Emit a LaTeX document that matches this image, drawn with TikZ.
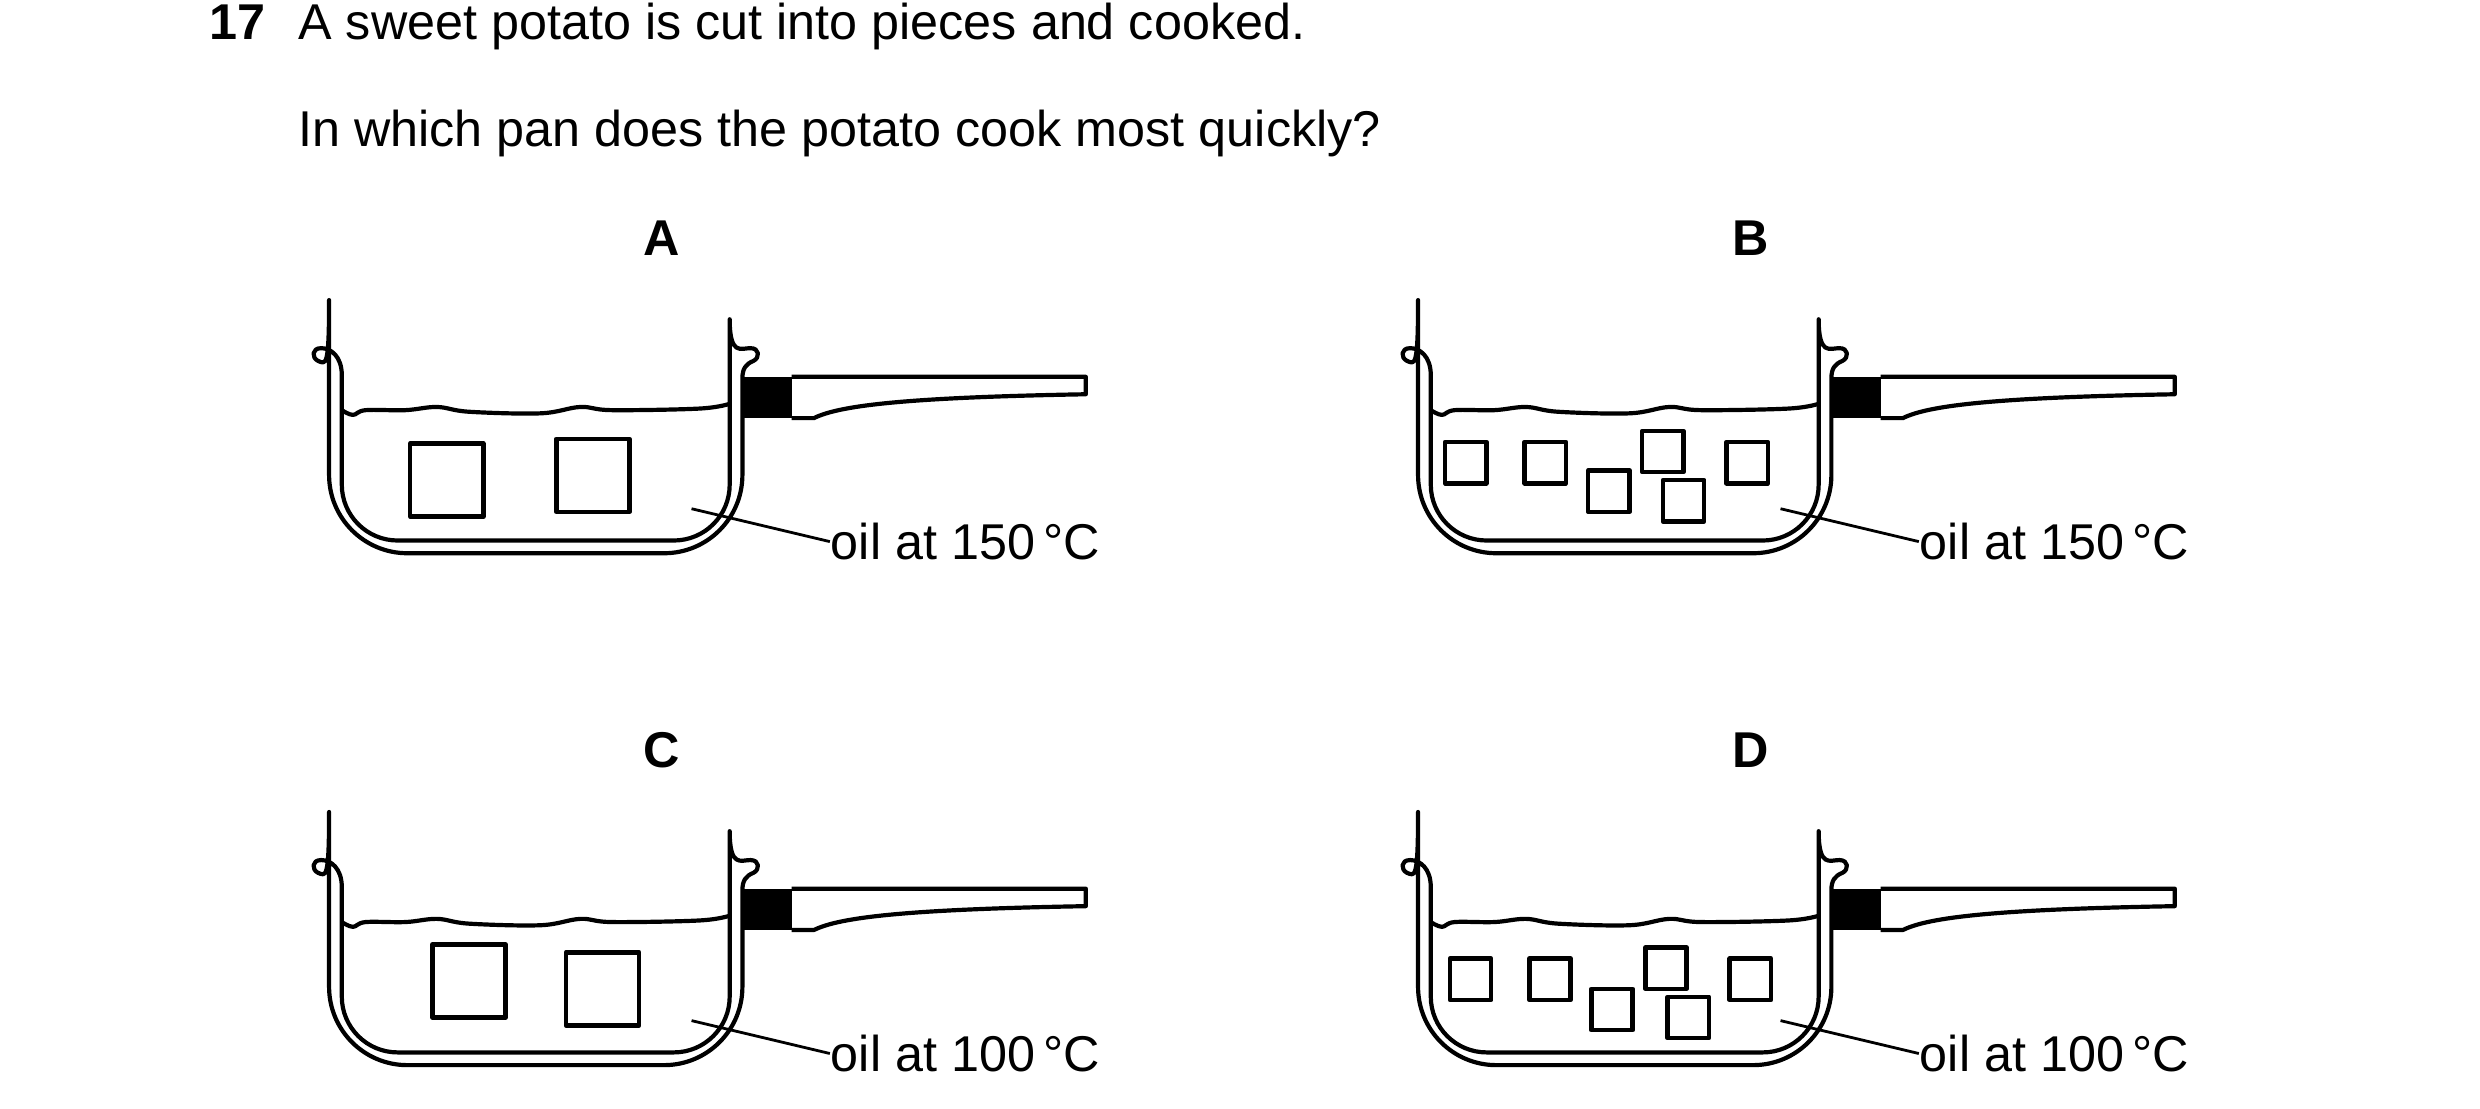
\documentclass[tikz,border=0pt]{standalone}
\usepackage{fontspec}
\setmainfont{Liberation Sans}
\begin{document}
\begin{tikzpicture}[x=0.01cm,y=-0.01cm,
  ln/.style={line width=0.75pt,line join=round},
  txt/.style={font=\fontsize{9}{11}\selectfont,inner sep=0pt},
  lab/.style={font=\bfseries\fontsize{9}{11}\selectfont,inner sep=0pt},
  sq/.style={ln,line width=0.8pt}]
\useasboundingbox (0,0) rectangle (1560,697.6);
\newcommand\potpan[3]{%
 \begin{scope}[shift={(#1,#2)}]
  \draw[ln,rounded corners=10] (215,236) -- (215,340) -- (459,340) -- (459,236)
    [sharp corners] .. controls (459,224) and (466,219) .. (472,219)
    .. controls (478,219) and (478,225) .. (474,227)
    .. controls (469,229) and (467,232) .. (467,238)
    [rounded corners=14] -- (467,348) -- (207,348) -- (207,238)
    [sharp corners] .. controls (207,232) and (205,229) .. (200,227)
    .. controls (196,225) and (196,219) .. (202,219)
    .. controls (208,219) and (215,224) .. (215,236);
  \draw[ln] plot[smooth,tension=0.6] coordinates {(215,258) (222,261) (230,258) (255,258) (275,256) (295,259) (340,260) (365,256) (385,258) (440,257) (459,254)};
  \fill (467,237) rectangle (498,263);
  \draw[ln] (498,237) -- (683,237) -- (683,248) .. controls (570,250) and (528,255) .. (512,263) -- (498,263);
  \node[txt,anchor=base west] (t#3) at (522,352) {oil at #3\,°C};
  \coordinate (p#3) at (435,320);
  \draw[line width=0.5pt] (p#3) -- (t#3.west);
 \end{scope}}
\node[font=\bfseries\fontsize{9}{11}\selectfont,anchor=base west,inner sep=0pt] (num) at (131,25) {17};
\node[txt,anchor=base west] (q1) at (187,25) {A sweet potato is cut into pieces and cooked.};
\node[txt,anchor=base west] (q2) at (187,92) {In which pan does the potato cook most quickly?};
\node[lab] (LA) at (416,150) {A};
\node[lab] (LB) at (1101,150) {B};
\node[lab] (LC) at (416,472) {C};
\node[lab] (LD) at (1101,472) {D};
\potpan{0}{0}{150}
\potpan{0}{322}{100}
\begin{scope}
\potpan{685}{0}{150}
\end{scope}
\begin{scope}
\potpan{685}{322}{100}
\end{scope}
% squares
\draw[sq] (258,279) rectangle ++(46,46) (350,276) rectangle ++(46,46);
\draw[sq] (272,594) rectangle ++(46,46) (356,599) rectangle ++(46,46);
\foreach \x/\y in {909/278,959/278,999/296,1033/271,1046/302,1086/278}
  \draw[sq] (\x,\y) rectangle ++(26,26);
\foreach \x/\y in {912/603,962/603,1001/622,1035/596,1049/627,1088/603}
  \draw[sq] (\x,\y) rectangle ++(26,26);
\end{tikzpicture}
\end{document}
